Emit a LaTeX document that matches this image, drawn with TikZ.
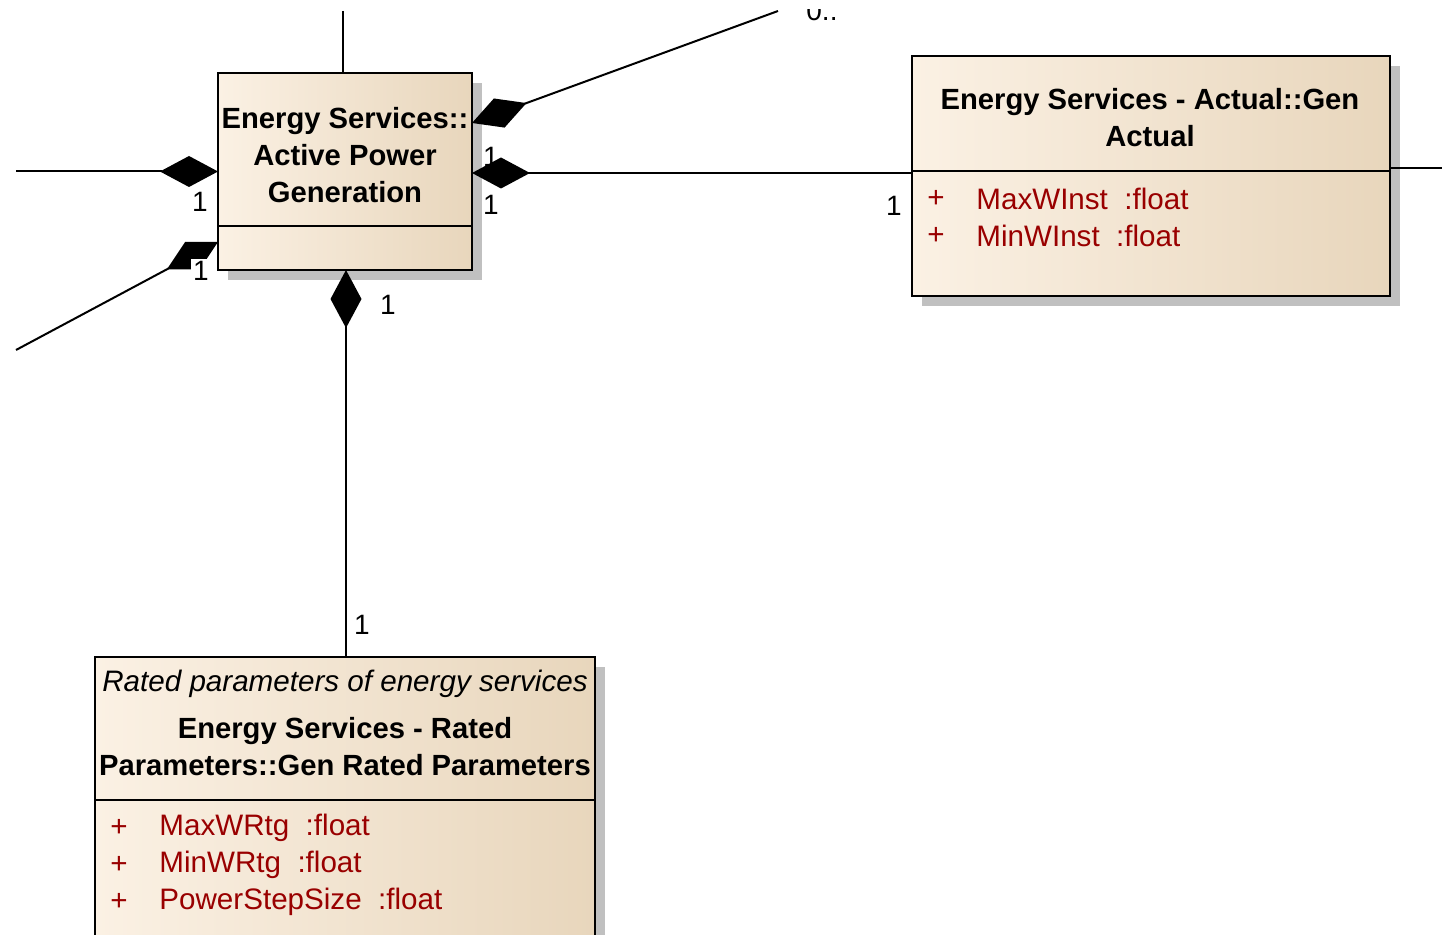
\documentclass[tikz,border=0pt]{standalone}
\usepackage{fontspec}
\setmainfont{Liberation Sans}
\usetikzlibrary{positioning, arrows.meta, shadows}
\definecolor{clsleft}{HTML}{FBF1E4}
\definecolor{clsright}{HTML}{E8D6BC}
\definecolor{attrred}{HTML}{990000}
\definecolor{shadowgrey}{HTML}{C0C0C0}

\begin{document}
\begin{tikzpicture}[x=0.5pt, y=-0.5pt,
    cls/.style={draw, line width=1.2pt, left color=clsleft, right color=clsright, inner sep=0, outer sep=0, anchor=north west, drop shadow={shadow xshift=5pt, shadow yshift=-5pt, fill=shadowgrey, opacity=1}},
    ttl/.style={align=center, inner sep=0, font=\fontsize{14.6}{18.5}\selectfont\bfseries},
    attr/.style={anchor=west, inner sep=0, text=attrred, font=\fontsize{14.8}{18.5}\selectfont},
    mult/.style={inner sep=1pt, font=\fontsize{14}{17}\selectfont},
    comp/.style={line width=1pt, {Diamond[length=29pt, width=15.5pt]}-}]

          \useasboundingbox (0,0) rectangle (1442,935);
          \clip (0,10) rectangle (1442,935);

          % classes
          \node[cls, minimum width=127pt, minimum height=98.5pt] at (218,73) (apg) {};
          \node[cls, minimum width=239pt, minimum height=120pt] at (912,56) (gact) {};
          \node[cls, minimum width=250pt, minimum height=145pt] at (95,657) (grated) {};

          \draw[line width=1.2pt] (apg.west |- 0,226) -- (apg.east |- 0,226);
          \draw[line width=1.2pt] (gact.west |- 0,171) -- (gact.east |- 0,171);
          \draw[line width=1.2pt] (grated.west |- 0,800) -- (grated.east |- 0,800);

          \node[ttl] at (345,155) (apgname) {Energy Services::\\Active Power\\Generation};
          \node[ttl] at (1150,118) (gactname) {Energy Services - Actual::Gen\\Actual};
          \node[inner sep=0, font=\fontsize{14.8}{18.5}\selectfont\itshape] at (345,684) (gratednote) {Rated parameters of energy services};
          \node[ttl] at (345,747) (gratedname) {Energy Services - Rated\\Parameters::Gen Rated Parameters};

          \node[attr] at (927,199) (p1) {+};
          \node[attr] at (976,199) (a1) {MaxWInst~~:float};
          \node[attr] at (927,236) (p2) {+};
          \node[attr] at (976,236) (a2) {MinWInst~~:float};

          \node[attr] at (110,828) (p3) {+};
          \node[attr] at (159,828) (a3) {MaxWRtg~~:float};
          \node[attr] at (110,865) (p4) {+};
          \node[attr] at (159,865) (a4) {MinWRtg~~:float};
          \node[attr] at (110,902) (p5) {+};
          \node[attr] at (159,902) (a5) {PowerStepSize~~:float};

          % connectors
          \coordinate (topend) at (343,11);
          \coordinate (leftend) at (16,171.5);
          \coordinate (lowend) at (16,350);
          \coordinate (upend) at (778,11);
          \coordinate (rightend) at (1442,168);

          \draw[line width=1pt] (topend) -- (topend |- apg.north);
          \draw[comp] (apg.west) -- (leftend);
          \draw[comp] (apg.east |- 0,123) -- (upend);
          \draw[comp] (apg.east |- 0,173) -- (gact.west |- 0,173);
          \draw[comp] ([xshift=0.5pt]apg.south) -- ([xshift=0.5pt]grated.north);
          \draw[line width=1pt] (gact.east |- 0,168) -- (rightend);
          \draw[comp] (apg.west |- 0,242) -- (lowend);

          % multiplicities
          \node[mult] at (200,202) (m1) {1};
          \node[mult, fill=white] at (201,271) (m2) {1};
          \node[mult] at (491,157) (m3) {1};
          \node[mult] at (491,205) (m4) {1};
          \node[mult] at (894,206) (m5) {1};
          \node[mult] at (388,305) (m6) {1};
          \node[mult] at (362,625) (m7) {1};
          \node[mult, anchor=base west] at (804,21) (m8) {0..};

      \end{tikzpicture}
\end{document}
